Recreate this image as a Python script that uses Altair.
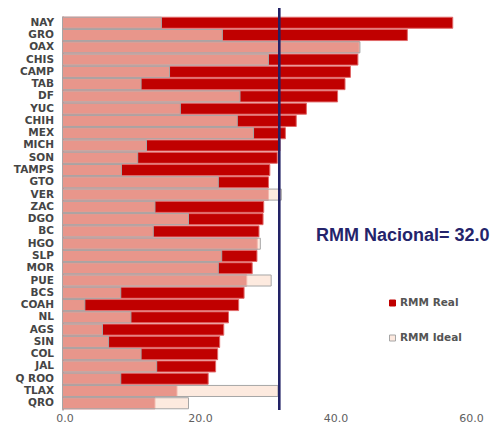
import altair as alt
import pandas as pd

states = ["NAY", "GRO", "OAX", "CHIS", "CAMP", "TAB", "DF", "YUC", "CHIH", "MEX",
          "MICH", "SON", "TAMPS", "GTO", "VER", "ZAC", "DGO", "BC", "HGO", "SLP",
          "MOR", "PUE", "BCS", "COAH", "NL", "AGS", "SIN", "COL", "JAL", "Q ROO",
          "TLAX", "QRO"]
rmm_real = [57.6, 50.9, 43.8, 43.6, 42.5, 41.7, 40.6, 36.0, 34.5, 32.9,
            32.1, 31.7, 30.6, 30.4, 30.4, 29.7, 29.6, 29.0, 28.75, 28.7,
            28.0, 27.2, 26.8, 26.0, 24.5, 23.8, 23.2, 22.9, 22.6, 21.5,
            16.9, 13.65]
rmm_ideal = [14.6, 23.6, 43.9, 30.4, 15.8, 11.6, 26.2, 17.4, 25.8, 28.2,
             12.4, 11.1, 8.7, 23.0, 32.3, 13.65, 18.6, 13.4, 29.2, 23.5,
             23.0, 30.8, 8.6, 3.3, 10.1, 5.9, 6.8, 11.6, 13.9, 8.6,
             31.8, 18.6]
series = ["RMM Real", "RMM Ideal"]
nacional = 32.0
x_ticks = [0, 20, 40, 60]

df = pd.DataFrame({"estado": states, "real": rmm_real, "ideal": rmm_ideal})

RED = "#C00000"
LIGHT = "#FCDFD0"

y_enc = alt.Y("estado:N", sort=states,
              scale=alt.Scale(paddingInner=0.1, paddingOuter=0.1),
              axis=alt.Axis(title=None, ticks=False, labelPadding=9,
                            labelFont="DejaVu Sans", labelFontSize=10.5,
                            labelFontWeight="bold", labelColor="#454545",
                            domainColor="#B5B5B5", domainWidth=2))
x_scale = alt.Scale(domain=[0, 60], nice=False)
x_axis = alt.Axis(title=None, values=x_ticks, format=".1f", ticks=False,
                  domain=False, grid=False, labelPadding=2, labelFlush=False,
                  labelOffset=2,
                  labelFont="DejaVu Sans", labelFontSize=11,
                  labelColor="#606060")

real_bars = alt.Chart(df).mark_bar(fill=RED, stroke="#E06868", strokeWidth=1).encode(
    x=alt.X("real:Q", scale=x_scale, axis=x_axis), y=y_enc)

ideal_bars = alt.Chart(df).mark_bar(fill=LIGHT, fillOpacity=0.67, stroke="#A6A6A6",
                                    strokeWidth=1).encode(
    x=alt.X("ideal:Q", scale=x_scale), y=y_enc)

rule = alt.Chart(pd.DataFrame({"v": [nacional]})).mark_rule(
    color="#222266", strokeWidth=2.6).encode(
    x=alt.X("v:Q", scale=x_scale), y=alt.value(-8), y2=alt.value(394))

label = alt.Chart(pd.DataFrame({"t": [f"RMM Nacional= {nacional:.1f}"]})).mark_text(
    align="left", baseline="alphabetic", font="Liberation Sans", fontSize=18,
    fontWeight="bold", color="#24246B").encode(
    text="t:N", x=alt.value(253.5), y=alt.value(225))

leg = pd.DataFrame({"s": series})
leg_fill = {"RMM Real": RED, "RMM Ideal": "#FDE9DF"}
leg_strk = {"RMM Real": RED, "RMM Ideal": "#A6A6A6"}
leg_layers = []
for i, s in enumerate(series):
    base = alt.Chart(leg).transform_filter(alt.datum.s == s)
    leg_layers.append(base.mark_square(size=36, strokeWidth=1, opacity=1,
                                       fill=leg_fill[s], stroke=leg_strk[s]).encode(
        x=alt.value(330), y=alt.value(287 + 35 * i)))
    leg_layers.append(base.mark_text(align="left", baseline="middle", font="DejaVu Sans",
                                     fontSize=10.5, fontWeight="bold", color="#555555").encode(
        x=alt.value(337.5), y=alt.value(287 + 35 * i), text="s:N"))

chart = alt.layer(real_bars, ideal_bars, rule, label, *leg_layers).properties(
    width=406.5, height=394,
    autosize=alt.AutoSizeParams(type="none"),
    padding={"left": 54.5, "top": 8, "right": 23, "bottom": 15},
).configure_view(stroke=None)

chart.save("out.html", embed_options={"renderer": "svg", "actions": False})
